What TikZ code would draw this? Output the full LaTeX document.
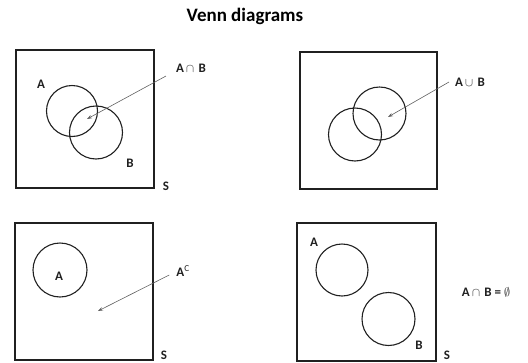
\documentclass[tikz,border=0pt]{standalone}
\usepackage{fontspec}
\setmainfont{Carlito}
\usetikzlibrary{arrows.meta}
\definecolor{ink}{HTML}{202020}
\definecolor{arrowgray}{HTML}{606060}
\tikzset{
  frame/.style={draw=ink, line width=1.3pt},
  setcircle/.style={draw=ink, line width=1.1pt, circle, inner sep=0pt},
  lbl/.style={font=\bfseries\fontsize{13}{15}\selectfont, text=ink, inner sep=0pt},
  pointer/.style={draw=arrowgray, line width=0.6pt, -{Stealth[length=5pt,width=3.5pt]}},
}
\begin{document}
\begin{tikzpicture}[x=1pt,y=-1pt]
\useasboundingbox (0,0) rectangle (528,362);
\node[font=\bfseries\fontsize{19}{22}\selectfont, text=black, inner sep=0pt] (title) at (245,16) {Venn diagrams};

% Diagram 1: intersection
\draw[frame] (16,50) rectangle (154,188);
\node[setcircle, minimum size=51pt] (a1) at (72,111) {};
\node[setcircle, minimum size=53pt] (b1) at (96,132.5) {};
\node[lbl] (la1) at (41,84) {A};
\node[lbl] (lb1) at (130,163) {B};
\node[lbl] (ls1) at (166,186) {S};
\node[lbl, anchor=west] (lab1) at (176,68) {A\,$\cap$\,\,B};
\coordinate (t1) at (87,119);
\draw[pointer] (lab1.west) ++(-10,8) coordinate (f1) -- (t1);

% Diagram 2: union
\draw[frame] (300,52) rectangle (437,189);
\node[setcircle, minimum size=53pt] (a2) at (379.5,113.5) {};
\node[setcircle, minimum size=53pt] (b2) at (355,134.5) {};
\node[lbl, anchor=west] (lab2) at (455,82) {A\,$\cup$\,\,B};
\coordinate (t2) at (388,117);
\draw[pointer] (lab2.west) ++(-6,0) coordinate (f2) -- (t2);

% Diagram 3: complement
\draw[frame] (15,223) rectangle (153,360);
\node[setcircle, minimum size=54pt] (a3) at (60,270) {};
\node[lbl] (la3) at (59,276) {A};
\node[lbl] (lac) at (183,271) {A$^{\mathrm{C}}$};
\node[lbl] (ls3) at (164,355) {S};
\coordinate (t3) at (98,311);
\draw[pointer] (lac.west) ++(-7,4) coordinate (f3) -- (t3);

% Diagram 4: disjoint
\draw[frame] (297,223) rectangle (436,361);
\node[setcircle, minimum size=52pt] (a4) at (342,270) {};
\node[setcircle, minimum size=53pt] (b4) at (388.5,319) {};
\node[lbl] (la4) at (314,242) {A};
\node[lbl] (lb4) at (419,345) {B};
\node[lbl] (ls4) at (447,355) {S};
\node[lbl] (lab4) at (486,292) {A\,$\cap$\,\,B = $\emptyset$};
\end{tikzpicture}
\end{document}
